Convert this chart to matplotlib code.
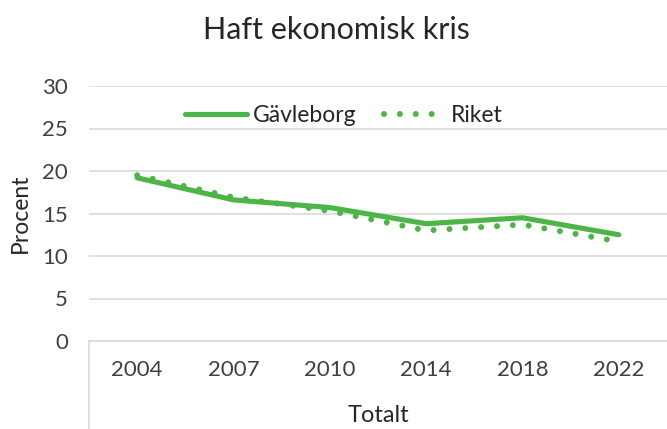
import matplotlib
matplotlib.use("Agg")
import matplotlib.pyplot as plt
from matplotlib.lines import Line2D

years = ["2004", "2007", "2010", "2014", "2018", "2022"]
gavleborg = [19.2, 16.6, 15.7, 13.8, 14.5, 12.5]
riket = [19.5, 16.9, 15.3, 13.0, 13.7, 11.7]
yticks = [0, 5, 10, 15, 20, 25, 30]

green = "#4DB547"
grid_col = "#D9D9D9"
text_col = "#404040"
plt.rcParams["font.family"] = ["Lato", "DejaVu Sans"]

W, H = 667, 429
fig = plt.figure(figsize=(W / 100, H / 100), dpi=100)
left, right, top, bottom = 89, 667, 86, 341
ax = fig.add_axes([left / W, 1 - bottom / H, (right - left) / W, (bottom - top) / H])

x = list(range(len(years)))
ax.plot(x, gavleborg, color=green, lw=3.7, solid_capstyle="round",
        solid_joinstyle="round", label="Gävleborg", zorder=3)
ax.plot(x, riket, color=green, lw=4.3, linestyle=(0, (0.01, 2.65)),
        dash_capstyle="round", label="Riket", zorder=3)

ax.set_xlim(-0.5, len(years) - 0.5)
ax.set_ylim(0, 30)
ax.set_yticks(yticks)
ax.set_yticklabels([str(v) for v in yticks], fontsize=16, color=text_col)
ax.set_xticks(x)
ax.set_xticklabels(years, fontsize=16, color=text_col)
ax.tick_params(axis="y", length=0, pad=15)
ax.tick_params(axis="x", length=0, pad=14)
ax.yaxis.grid(True, color=grid_col, lw=1.2)
ax.set_axisbelow(True)
for s in ["top", "right", "left"]:
    ax.spines[s].set_visible(False)
ax.spines["bottom"].set_color(grid_col)
ax.spines["bottom"].set_linewidth(1.2)

ax.set_ylabel("Procent", fontsize=16.5, color="#262626", labelpad=8)
ax.set_xlabel("Totalt", fontsize=17, color="#262626", labelpad=18)

# category group divider on the left
fig.add_artist(Line2D([left / W, left / W], [0, 1 - bottom / H],
                      color=grid_col, lw=1.2, transform=fig.transFigure))

fig.text(336 / W, 1 - 30 / H, "Haft ekonomisk kris", ha="center", va="center",
         fontsize=22, color="#262626")

leg = ax.legend(loc="center", bbox_to_anchor=(344 / W, 1 - 116 / H),
                bbox_transform=fig.transFigure, ncol=2, frameon=False,
                fontsize=16.5, handlelength=2.7, columnspacing=1.2,
                handletextpad=0.25)
for t in leg.get_texts():
    t.set_color("#262626")

fig.savefig("out.png", dpi=100, facecolor="white")
